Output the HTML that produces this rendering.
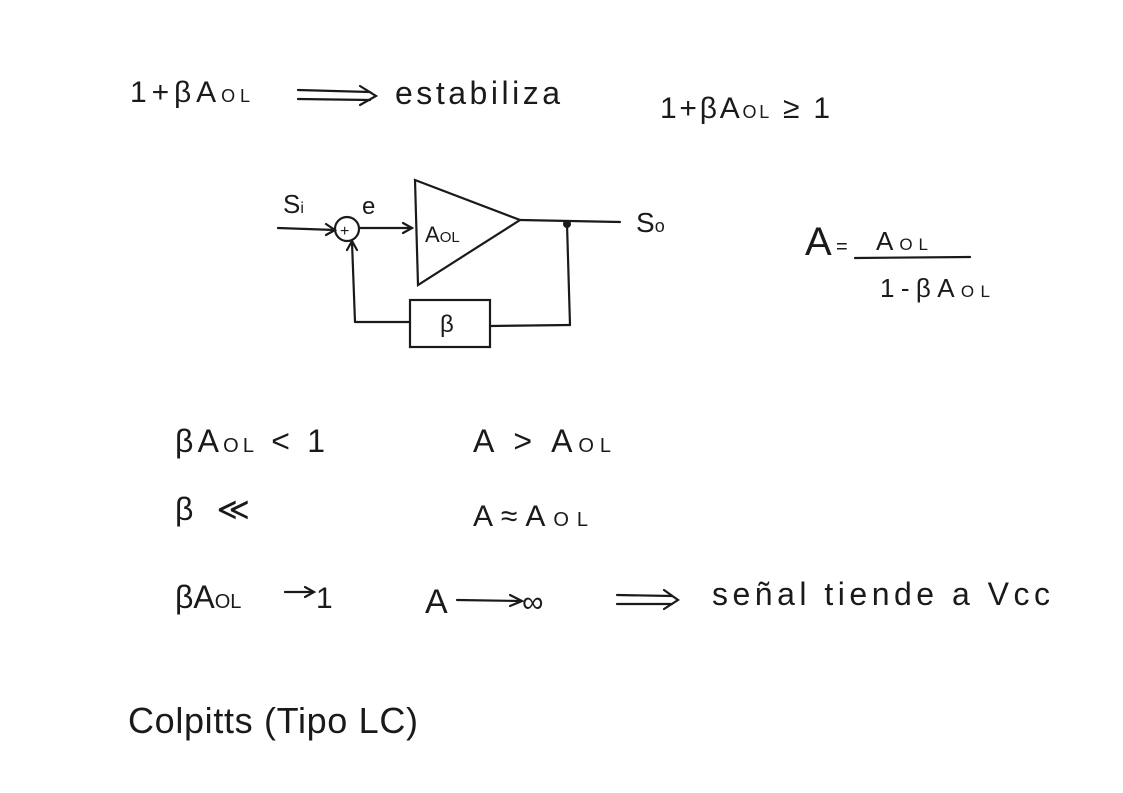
<!DOCTYPE html>
<html><head><meta charset="utf-8"><style>
html,body{margin:0;padding:0;background:#fff;}
svg{display:block}
text{font-family:"Liberation Sans",sans-serif;fill:#1a1a1a;}
</style></head><body>
<svg width="1123" height="793" viewBox="0 0 1123 793" xmlns="http://www.w3.org/2000/svg">
<rect width="1123" height="793" fill="#fff"/>
<g stroke="#1a1a1a" stroke-width="2.2" fill="none" stroke-linecap="round">
<line x1="298" y1="90" x2="370" y2="92"/><line x1="298" y1="99" x2="370" y2="100"/><path d="M360 86 L376 96 L360 105"/>
<line x1="278" y1="228" x2="335" y2="230"/><path d="M326 224 L335 230 L326 235"/>
<circle cx="347" cy="229" r="12"/>
<line x1="359" y1="228" x2="412" y2="228"/><path d="M403 223 L412 228 L403 233"/>
<path d="M415 180 L520 220 L418 285 Z"/>
<line x1="520" y1="220" x2="620" y2="222"/>
<line x1="567" y1="224" x2="570" y2="325"/>
<line x1="570" y1="325" x2="490" y2="326"/>
<rect x="410" y="300" width="80" height="47"/>
<line x1="410" y1="322" x2="355" y2="322"/>
<line x1="355" y1="322" x2="352" y2="242"/>
<path d="M347 250 L352 241 L357 250"/>
<line x1="855" y1="258" x2="970" y2="257"/>
<line x1="457" y1="600" x2="520" y2="601"/><path d="M510 595 L522 601 L510 606"/>
<line x1="285" y1="592" x2="312" y2="592"/><path d="M305 587 L314 592 L305 597"/>
<line x1="617" y1="595" x2="672" y2="596"/><line x1="617" y1="604" x2="672" y2="604"/><path d="M664 590 L678 600 L664 609"/>
</g>
<circle cx="567" cy="224" r="4" fill="#1a1a1a"/>
<text x="130" y="102" font-size="30" textLength="120">1+βA<tspan font-size="18">OL</tspan></text>
<text x="395" y="104" font-size="32" textLength="165">estabiliza</text>
<text x="660" y="118" font-size="30" textLength="170">1+βA<tspan font-size="18">OL</tspan> ≥ 1</text>
<text x="283" y="213" font-size="26">S<tspan font-size="16">i</tspan></text>
<text x="362" y="214" font-size="24">e</text>
<text x="340" y="236" font-size="16">+</text>
<text x="425" y="242" font-size="22">A<tspan font-size="15">OL</tspan></text>
<text x="636" y="232" font-size="28">S<tspan font-size="18">o</tspan></text>
<text x="440" y="332" font-size="24">β</text>
<text x="805" y="255" font-size="40">A</text>
<text x="836" y="253" font-size="20">=</text>
<text x="876" y="250" font-size="26" textLength="52">A<tspan font-size="17">OL</tspan></text>
<text x="880" y="297" font-size="26" textLength="110">1-βA<tspan font-size="17">OL</tspan></text>
<text x="175" y="452" font-size="32" textLength="150">βA<tspan font-size="20">OL</tspan> &lt; 1</text>
<text x="473" y="452" font-size="32" textLength="138">A &gt; A<tspan font-size="20">OL</tspan></text>
<text x="175" y="520" font-size="32" textLength="75">β≪</text>
<text x="473" y="526" font-size="30" textLength="115">A≈A<tspan font-size="20">OL</tspan></text>
<text x="175" y="608" font-size="32">βA<tspan font-size="20">OL</tspan></text>
<text x="316" y="608" font-size="30">1</text>
<text x="425" y="613" font-size="34">A</text>
<text x="522" y="612" font-size="30">∞</text>
<text x="712" y="605" font-size="32" textLength="338">señal  tiende a Vcc</text>
<text x="128" y="733" font-size="36" textLength="290">Colpitts (Tipo LC)</text>
</svg>
</body></html>
